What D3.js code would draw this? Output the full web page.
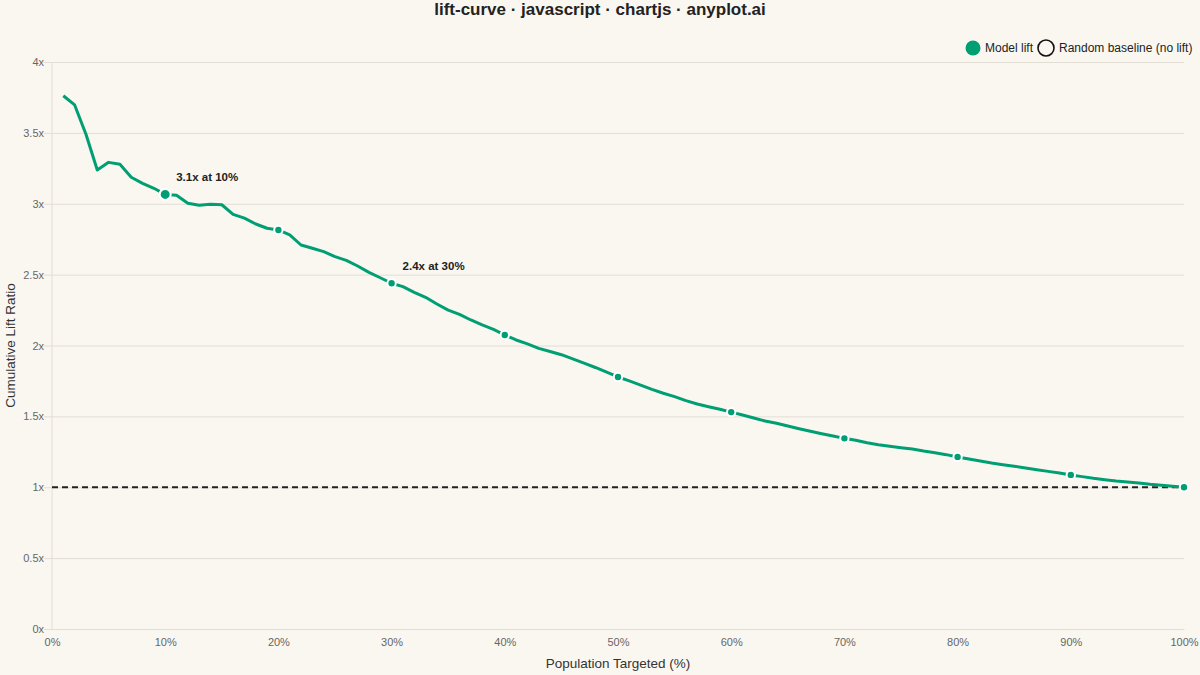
<!DOCTYPE html>
<html>
<head>
<meta charset="utf-8">
<script src="https://cdn.jsdelivr.net/npm/d3@7/dist/d3.min.js"></script>
<style>
  html, body { margin: 0; padding: 0; background: #faf7f1; }
  svg { display: block; font-family: "Liberation Sans", Arial, sans-serif; }
</style>
</head>
<body>
<div id="chart"></div>
<script>
(function() {
    'use strict';

    // data
    var populationPct = [
        1, 2, 3, 4, 5, 6, 7, 8, 9, 10,
        11, 12, 13, 14, 15, 16, 17, 18, 19, 20,
        21, 22, 23, 24, 25, 26, 27, 28, 29, 30,
        31, 32, 33, 34, 35, 36, 37, 38, 39, 40,
        41, 42, 43, 44, 45, 46, 47, 48, 49, 50,
        51, 52, 53, 54, 55, 56, 57, 58, 59, 60,
        61, 62, 63, 64, 65, 66, 67, 68, 69, 70,
        71, 72, 73, 74, 75, 76, 77, 78, 79, 80,
        81, 82, 83, 84, 85, 86, 87, 88, 89, 90,
        91, 92, 93, 94, 95, 96, 97, 98, 99, 100
    ];
    var modelLift = [
        3.762, 3.697, 3.490, 3.238, 3.292, 3.278, 3.187, 3.144, 3.109, 3.066,
        3.060, 3.003, 2.989, 2.996, 2.993, 2.925, 2.899, 2.857, 2.827, 2.815,
        2.780, 2.709, 2.686, 2.662, 2.627, 2.601, 2.561, 2.516, 2.478, 2.439,
        2.415, 2.375, 2.340, 2.293, 2.250, 2.220, 2.180, 2.145, 2.114, 2.074,
        2.039, 2.011, 1.980, 1.958, 1.935, 1.905, 1.875, 1.845, 1.812, 1.778,
        1.750, 1.721, 1.691, 1.663, 1.639, 1.611, 1.587, 1.568, 1.550, 1.530,
        1.510, 1.489, 1.467, 1.451, 1.432, 1.413, 1.395, 1.378, 1.362, 1.345,
        1.331, 1.314, 1.300, 1.289, 1.279, 1.270, 1.256, 1.244, 1.230, 1.214,
        1.199, 1.185, 1.171, 1.159, 1.148, 1.136, 1.124, 1.112, 1.101, 1.087,
        1.075, 1.063, 1.053, 1.044, 1.037, 1.030, 1.021, 1.014, 1.007, 1.000
    ];
    var baselineLift = [1, 1];
    var baselinePct = [0, 100];
    var markerPct = [10, 20, 30, 40, 50, 60, 70, 80, 90, 100];
    var highlightPct = 10;
    var annotations = [
        { pct: 10, text: '3.1x at 10%' },
        { pct: 30, text: '2.4x at 30%' }
    ];
    var xTicks = [0, 10, 20, 30, 40, 50, 60, 70, 80, 90, 100];
    var yTicks = [0, 0.5, 1, 1.5, 2, 2.5, 3, 3.5, 4];

    var W = 1200, H = 675;
    var margin = { top: 62, right: 16, bottom: 46, left: 52 };
    var green = '#009e73';

    var svg = d3.select('#chart').append('svg')
                .attr('width', W)
                .attr('height', H);

    svg.append('rect')
        .attr('width', W)
        .attr('height', H)
        .attr('fill', '#faf7f1');

    var x = d3.scaleLinear().domain([0, 100]).range([margin.left, W - margin.right]);
    var y = d3.scaleLinear().domain([0, 4]).range([H - margin.bottom, margin.top]);

    // title
    svg.append('text')
        .attr('x', W / 2)
        .attr('y', 15)
        .attr('text-anchor', 'middle')
        .attr('font-size', 17)
        .attr('font-weight', 'bold')
        .attr('fill', '#222')
        .text('lift-curve \u00b7 javascript \u00b7 chartjs \u00b7 anyplot.ai');

    /* y axis + grid */
    var yAxis = svg.append('g')
        .attr('transform', 'translate(' + margin.left + ',0)')
        .call(d3.axisLeft(y)
            .tickValues(yTicks)
            .tickSize(-(W - margin.left - margin.right))
            .tickPadding(8)
            .tickFormat(function(d) { return d + 'x'; }));
    yAxis.select('.domain').remove();
    yAxis.selectAll('.tick line')
        .attr('stroke', '#e2ded6')
        .attr('x1', -8);
    yAxis.selectAll('.tick text')
        .attr('font-size', 11)
        .attr('font-family', '"Liberation Sans", Arial, sans-serif')
        .attr('fill', '#666');

    /* x axis */
    var xAxis = svg.append('g')
        .attr('transform', 'translate(0,' + (H - margin.bottom) + ')')
        .call(d3.axisBottom(x)
            .tickValues(xTicks)
            .tickSize(0)
            .tickPadding(9)
            .tickFormat(function(d) { return d + '%'; }));
    xAxis.select('.domain').attr('stroke', '#e2ded6');
    xAxis.selectAll('.tick text')
        .attr('font-size', 11)
        .attr('font-family', '"Liberation Sans", Arial, sans-serif')
        .attr('fill', '#666');

    // left axis line
    svg.append('line')
        .attr('x1', x(0)).attr('x2', x(0))
        .attr('y1', y(4)).attr('y2', y(0))
        .attr('stroke', '#e2ded6');

    // axis titles
    svg.append('text')
        .attr('x', x(50))
        .attr('y', 668)
        .attr('text-anchor', 'middle')
        .attr('font-size', 13.5)
        .attr('fill', '#333')
        .text('Population Targeted (%)');

    svg.append('text')
        .attr('transform', 'translate(15,' + y(2) + ') rotate(-90)')
        .attr('text-anchor', 'middle')
        .attr('font-size', 13.5)
        .attr('fill', '#333')
        .text('Cumulative Lift Ratio');

    // random baseline
    svg.append('line')
        .attr('x1', x(baselinePct[0])).attr('x2', x(baselinePct[1]))
        .attr('y1', y(baselineLift[0])).attr('y2', y(baselineLift[1]))
        .attr('stroke', '#222')
        .attr('stroke-width', 1.8)
        .attr('stroke-dasharray', '6,4');

    // model lift curve
    var pts = populationPct.map(function(p, i) { return { pct: p, lift: modelLift[i] }; });

    var line = d3.line()
        .x(function(d) { return x(d.pct); })
        .y(function(d) { return y(d.lift); });

    svg.append('path')
        .datum(pts)
        .attr('d', line)
        .attr('fill', 'none')
        .attr('stroke', green)
        .attr('stroke-width', 3)
        .attr('stroke-linejoin', 'round');

    var markers = pts.filter(function(d) { return markerPct.indexOf(d.pct) >= 0; });

    svg.selectAll('circle.marker')
        .data(markers)
        .enter().append('circle')
        .attr('class', 'marker')
        .attr('cx', function(d) { return x(d.pct); })
        .attr('cy', function(d) { return y(d.lift); })
        .attr('r', function(d) { return d.pct === highlightPct ? 5.5 : 4.2; })
        .attr('fill', green)
        .attr('stroke', '#fff')
        .attr('stroke-width', 2);

    // annotations
    svg.selectAll('text.annot')
        .data(annotations)
        .enter().append('text')
        .attr('class', 'annot')
        .attr('x', function(d) { return x(d.pct) + 11; })
        .attr('y', function(d) { return y(modelLift[populationPct.indexOf(d.pct)]) - 13; })
        .attr('font-size', 11.5)
        .attr('font-weight', 'bold')
        .attr('fill', '#222')
        .text(function(d) { return d.text; });

    /* legend */
    var legend = svg.append('g');
    legend.append('circle')
        .attr('cx', 973).attr('cy', 48).attr('r', 7.5)
        .attr('fill', green);
    legend.append('text')
        .attr('x', 985).attr('y', 52)
        .attr('font-size', 12)
        .attr('fill', '#222')
        .text('Model lift');
    legend.append('circle')
        .attr('cx', 1046).attr('cy', 48).attr('r', 8)
        .attr('fill', 'none')
        .attr('stroke', '#111')
        .attr('stroke-width', 1.6);
    legend.append('text')
        .attr('x', 1059).attr('y', 52)
        .attr('font-size', 12)
        .attr('fill', '#222')
        .text('Random baseline (no lift)');

})();
</script>
</body>
</html>
